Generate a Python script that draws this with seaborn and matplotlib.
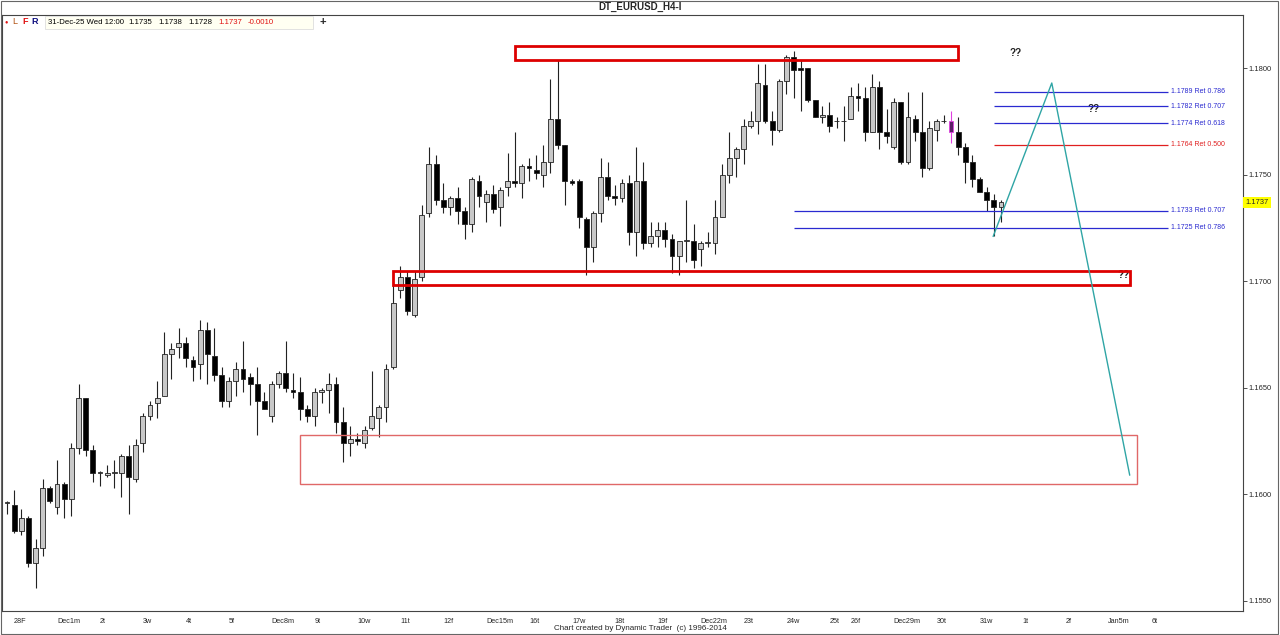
import numpy as np
import pandas as pd
import seaborn as sns
import matplotlib
matplotlib.use("Agg")
import matplotlib.pyplot as plt
from matplotlib.patches import Rectangle
import matplotlib.transforms as mtransforms

# EURUSD H4 candles, 28 nov -> 31 dec
opens = [1.1596, 1.1595, 1.1583, 1.1589, 1.1568, 1.1575, 1.1603, 1.1594, 1.1605, 1.1598,
         1.1622, 1.1645, 1.1621, 1.1610, 1.1609, 1.1610, 1.1610, 1.1618, 1.1607, 1.1624,
         1.1637, 1.1643, 1.1646, 1.1666, 1.1669, 1.1671, 1.1663, 1.1661, 1.1677, 1.1665,
         1.1656, 1.1644, 1.1653, 1.1659, 1.1655, 1.1652, 1.1644, 1.1637, 1.1652, 1.1657,
         1.1649, 1.1648, 1.1640, 1.1637, 1.1648, 1.1649, 1.1652, 1.1634, 1.1624, 1.1626,
         1.1624, 1.1631, 1.1636, 1.1641, 1.1660, 1.1696, 1.1702, 1.1684, 1.1702, 1.1732,
         1.1755, 1.1738, 1.1735, 1.1739, 1.1733, 1.1727, 1.1747, 1.1737, 1.1741, 1.1735,
         1.1744, 1.1747, 1.1746, 1.1754, 1.1752, 1.1750, 1.1756, 1.1776, 1.1764, 1.1747,
         1.1747, 1.1729, 1.1716, 1.1732, 1.1749, 1.1740, 1.1739, 1.1746, 1.1723, 1.1747,
         1.1718, 1.1721, 1.1724, 1.1720, 1.1712, 1.1719, 1.1719, 1.1715, 1.1718, 1.1718,
         1.1730, 1.1750, 1.1758, 1.1762, 1.1773, 1.1775, 1.1792, 1.1775, 1.1771, 1.1794,
         1.1805, 1.1800, 1.1800, 1.1785, 1.1777, 1.1778, 1.1775, 1.1775, 1.1776, 1.1787,
         1.1786, 1.1770, 1.1791, 1.1770, 1.1763, 1.1784, 1.1756, 1.1776, 1.1770, 1.1753,
         1.1771, 1.1775, 1.1775, 1.1770, 1.1763, 1.1756, 1.1748, 1.1742, 1.1738, 1.1735]
highs = [1.1597, 1.1602, 1.1593, 1.1590, 1.1579, 1.1607, 1.1604, 1.1616, 1.1606, 1.1624,
         1.1652, 1.1645, 1.1623, 1.1611, 1.1614, 1.1616, 1.1619, 1.1623, 1.1626, 1.1638,
         1.1644, 1.1653, 1.1676, 1.1671, 1.1678, 1.1674, 1.1665, 1.1682, 1.1681, 1.1678,
         1.1660, 1.1655, 1.1662, 1.1672, 1.1657, 1.1660, 1.1648, 1.1653, 1.1658, 1.1672,
         1.1657, 1.1655, 1.1642, 1.1650, 1.1650, 1.1657, 1.1655, 1.1641, 1.1632, 1.1629,
         1.1632, 1.1658, 1.1642, 1.1661, 1.1700, 1.1707, 1.1705, 1.1705, 1.1736, 1.1763,
         1.1759, 1.1746, 1.1740, 1.1744, 1.1735, 1.1749, 1.1750, 1.1743, 1.1745, 1.1744,
         1.1760, 1.1770, 1.1755, 1.1758, 1.1759, 1.1764, 1.1795, 1.1804, 1.1764, 1.1748,
         1.1748, 1.1730, 1.1733, 1.1758, 1.1756, 1.1745, 1.1748, 1.1750, 1.1763, 1.1756,
         1.1728, 1.1728, 1.1728, 1.1722, 1.1719, 1.1738, 1.1727, 1.1719, 1.1723, 1.1738,
         1.1755, 1.1770, 1.1763, 1.1776, 1.1780, 1.1802, 1.1802, 1.1780, 1.1795, 1.1806,
         1.1808, 1.1804, 1.1800, 1.1785, 1.1782, 1.1784, 1.1777, 1.1782, 1.1791, 1.1793,
         1.1791, 1.1797, 1.1794, 1.1781, 1.1786, 1.1784, 1.1789, 1.1778, 1.1789, 1.1775,
         1.1776, 1.1778, 1.1780, 1.1777, 1.1765, 1.1759, 1.1749, 1.1744, 1.1741, 1.1738]
lows = [1.1591, 1.1582, 1.1581, 1.1566, 1.1556, 1.1571, 1.1596, 1.1591, 1.1589, 1.1590,
        1.1619, 1.1618, 1.1606, 1.1604, 1.1608, 1.1603, 1.1599, 1.1591, 1.1606, 1.1620,
        1.1635, 1.1636, 1.1646, 1.1654, 1.1664, 1.1660, 1.1653, 1.1654, 1.1652, 1.1653,
        1.1641, 1.1641, 1.1646, 1.1648, 1.1642, 1.1628, 1.1640, 1.1634, 1.1650, 1.1648,
        1.1645, 1.1635, 1.1634, 1.1632, 1.1643, 1.1638, 1.1629, 1.1615, 1.1618, 1.1623,
        1.1622, 1.1630, 1.1627, 1.1634, 1.1659, 1.1692, 1.1684, 1.1683, 1.1700, 1.1730,
        1.1736, 1.1732, 1.1731, 1.1727, 1.1720, 1.1723, 1.1735, 1.1728, 1.1732, 1.1726,
        1.1740, 1.1744, 1.1739, 1.1747, 1.1748, 1.1744, 1.1751, 1.1762, 1.1736, 1.1745,
        1.1725, 1.1703, 1.1709, 1.1728, 1.1738, 1.1736, 1.1737, 1.1717, 1.1712, 1.1715,
        1.1716, 1.1716, 1.1716, 1.1704, 1.1703, 1.1709, 1.1706, 1.1707, 1.1716, 1.1713,
        1.1730, 1.1746, 1.1749, 1.1755, 1.1772, 1.1769, 1.1774, 1.1764, 1.1770, 1.1788,
        1.1786, 1.1780, 1.1784, 1.1777, 1.1774, 1.1770, 1.1772, 1.1766, 1.1776, 1.1780,
        1.1766, 1.1770, 1.1762, 1.1765, 1.1762, 1.1755, 1.1755, 1.1766, 1.1749, 1.1752,
        1.1766, 1.1774, 1.1765, 1.1759, 1.1746, 1.1744, 1.1742, 1.1733, 1.1721, 1.1728]
closes = [1.1596, 1.1583, 1.1589, 1.1568, 1.1575, 1.1603, 1.1597, 1.1605, 1.1598, 1.1622,
          1.1645, 1.1621, 1.1610, 1.1610, 1.1610, 1.1610, 1.1618, 1.1608, 1.1623, 1.1637,
          1.1642, 1.1645, 1.1666, 1.1668, 1.1671, 1.1664, 1.1660, 1.1677, 1.1666, 1.1656,
          1.1644, 1.1653, 1.1659, 1.1654, 1.1652, 1.1644, 1.1640, 1.1652, 1.1657, 1.1650,
          1.1648, 1.1640, 1.1637, 1.1648, 1.1649, 1.1652, 1.1634, 1.1624, 1.1626, 1.1625,
          1.1630, 1.1637, 1.1641, 1.1659, 1.1690, 1.1702, 1.1686, 1.1701, 1.1731, 1.1755,
          1.1738, 1.1735, 1.1739, 1.1733, 1.1727, 1.1748, 1.1740, 1.1741, 1.1734, 1.1743,
          1.1747, 1.1746, 1.1754, 1.1753, 1.1751, 1.1756, 1.1776, 1.1764, 1.1747, 1.1746,
          1.1730, 1.1716, 1.1732, 1.1749, 1.1740, 1.1739, 1.1746, 1.1723, 1.1747, 1.1718,
          1.1721, 1.1724, 1.1720, 1.1712, 1.1719, 1.1719, 1.1710, 1.1718, 1.1718, 1.1730,
          1.1750, 1.1758, 1.1762, 1.1773, 1.1775, 1.1793, 1.1775, 1.1771, 1.1794, 1.1805,
          1.1799, 1.1799, 1.1785, 1.1777, 1.1778, 1.1773, 1.1775, 1.1775, 1.1787, 1.1786,
          1.1770, 1.1791, 1.1770, 1.1768, 1.1784, 1.1756, 1.1777, 1.1770, 1.1753, 1.1772,
          1.1775, 1.1775, 1.1770, 1.1763, 1.1756, 1.1748, 1.1742, 1.1738, 1.1735, 1.1737]
gemarkeerde_candle = 132  # paarse candle

# dag-labels op de x-as (candle-index waar de dag begint)
dag_labels = ["28F", "Dec1m", "2t", "3w", "4t", "5f", "Dec8m", "9t", "10w", "11t", "12f",
              "Dec15m", "16t", "17w", "18t", "19f", "Dec22m", "23t", "24w", "25t", "26f",
              "Dec29m", "30t", "31w", "1t", "2f", "Jan5m", "6t"]
dag_index = [1, 7, 13, 19, 25, 31, 37, 43, 49, 55, 61, 67, 73, 79, 85, 91, 97, 103, 109,
             115, 118, 124, 130, 136, 142, 148, 154, 160]

prijs_ticks = [1.1550, 1.1600, 1.1650, 1.1700, 1.1750, 1.1800]

# fibonacci retracements
fib_prijzen = [1.1789, 1.1782, 1.1774, 1.1764, 1.1733, 1.1725]
fib_labels = ["1.1789 Ret 0.786", "1.1782 Ret 0.707", "1.1774 Ret 0.618",
              "1.1764 Ret 0.500", "1.1733 Ret 0.707", "1.1725 Ret 0.786"]
fib_start = [138, 138, 138, 138, 110, 110]
fib_eind = 162.4
fib_kleuren = ["#2a2ad0", "#2a2ad0", "#2a2ad0", "#e02020", "#2a2ad0", "#2a2ad0"]

# zones (x van, x tot, prijs onder, prijs boven)
zone_top = (71, 133, 1.18038, 1.18103)
zone_midden = (54, 157, 1.16982, 1.17048)
zone_onder = (41, 158, 1.16049, 1.16279)

# verwachte zigzag
zz_x = [137.9, 146.1, 157.0]
zz_y = [1.1721, 1.1793, 1.1609]

vraag_x = [141.1, 152.0, 156.1]
vraag_y = [1.1807, 1.1781, 1.1703]

laatste_prijs = 1.1737

sns.set_style("white")
plt.rcParams["font.family"] = ["Liberation Sans", "DejaVu Sans"]

fig = plt.figure(figsize=(12.8, 6.35), dpi=100)
ax = fig.add_axes([2 / 1280, 24 / 635, 1241 / 1280, 596 / 635])

df = pd.DataFrame({"o": opens, "h": highs, "l": lows, "c": closes})
x = np.arange(len(df))
stijgend = df.c >= df.o
body_kleur = np.where(stijgend, "#c8c8c8", "black").astype(object)
wiek_kleur = np.array(["#222222"] * len(df), dtype=object)
body_kleur[gemarkeerde_candle] = "#5b1f66"
wiek_kleur[gemarkeerde_candle] = "#e040e0"

ax.vlines(x, df.l, df.h, colors=list(wiek_kleur), lw=0.8, zorder=2)
hoogte = (df.c - df.o).abs().clip(lower=0.00004)
ax.bar(x, hoogte, bottom=df[["o", "c"]].min(axis=1), width=0.68,
       color=list(body_kleur), edgecolor=list(wiek_kleur), linewidth=0.6, zorder=3)

# zones
for (x0, x1, p0, p1), kleur, dikte in [(zone_top, "#dd0000", 2.0),
                                         (zone_midden, "#dd0000", 2.0),
                                         (zone_onder, "#e06868", 1.0)]:
    ax.add_patch(Rectangle((x0, p0), x1 - x0, p1 - p0, fill=False,
                           edgecolor=kleur, lw=dikte, zorder=4))

# fib lijnen
for p, lab, x0, kl in zip(fib_prijzen, fib_labels, fib_start, fib_kleuren):
    ax.hlines(p, x0, fib_eind, color=kl, lw=0.9, zorder=4)
    ax.text(fib_eind + 0.4, p, lab, color=kl, fontsize=5, va="center", ha="left")

sns.lineplot(x=zz_x, y=zz_y, ax=ax, color="#2fa5a5", lw=1.0, sort=False,
             estimator=None, zorder=5)

for vx, vy in zip(vraag_x, vraag_y):
    ax.text(vx, vy, "??", fontsize=7, fontweight="bold", ha="center", va="center",
            color="#222222")

ax.set_xlim(-0.7, 172.84)
ax.set_ylim(1.15453, 1.18249)

ax.set_xticks(dag_index)
ax.set_xticklabels(dag_labels, fontsize=5.2)
verschuiving = mtransforms.ScaledTranslation(2 / 72, 0, fig.dpi_scale_trans)
for lbl in ax.get_xticklabels():
    lbl.set_ha("left")
    lbl.set_transform(lbl.get_transform() + verschuiving)
ax.tick_params(axis="x", direction="out", length=4, width=0.6, pad=1, color="#333333")

ax.yaxis.tick_right()
ax.set_yticks(prijs_ticks)
ax.set_yticklabels([f"{p:.4f}" for p in prijs_ticks], fontsize=5.4)
ax.tick_params(axis="y", direction="out", length=3, width=0.6, pad=1, color="#333333")
ax.set_xlabel("")
ax.set_ylabel("")
for s in ax.spines.values():
    s.set_color("#444444")
    s.set_linewidth(0.8)

# laatste prijs label
trans = mtransforms.blended_transform_factory(ax.transAxes, ax.transData)
ax.text(1.002, laatste_prijs, f"{laatste_prijs:.4f}", transform=trans, fontsize=5.4,
        va="center", ha="left", clip_on=False,
        bbox=dict(boxstyle="square,pad=0.3", fc="#ffff00", ec="none"))

# kop en voet
fig.text(0.5, 1 - 7 / 635, "DT_EURUSD_H4-I", ha="center", va="center",
         fontsize=7, fontweight="bold")
hy = 1 - 22 / 635
fig.add_artist(Rectangle((45 / 1280, 1 - 29 / 635), 268 / 1280, 13 / 635,
                         transform=fig.transFigure, fc="#fffff2", ec="#dddddd", lw=0.6))
fig.text(6 / 1280, hy, "\u25cf", color="#e01010", fontsize=4, va="center", ha="center")
fig.text(12 / 1280, hy, "L", color="#b05010", fontsize=6.5, va="center")
fig.text(22 / 1280, hy, "F", color="#e01010", fontsize=6.5, va="center", fontweight="bold")
fig.text(31 / 1280, hy, "R", color="#101080", fontsize=6.5, va="center", fontweight="bold")
kop_items = [("31-Dec-25 Wed 12:00", 48, "black"), ("1.1735", 128, "black"),
             ("1.1738", 158, "black"), ("1.1728", 188, "black"),
             ("1.1737", 218, "#e01010"), ("-0.0010", 248, "#e01010")]
for tekst, px, kl in kop_items:
    fig.text(px / 1280, hy, tekst, color=kl, fontsize=5.6, va="center")
fig.text(320 / 1280, hy, "+", fontsize=8, fontweight="bold", va="center")
fig.text(0.5, 1 - 629 / 635, "Chart created by Dynamic Trader  (c) 1996-2014",
         ha="center", va="center", fontsize=5.8)
fig.add_artist(Rectangle((0.0005, 0.002), 0.998, 0.996, transform=fig.transFigure,
                         fill=False, ec="#666666", lw=0.8))

plt.savefig("out.png", dpi=100)
